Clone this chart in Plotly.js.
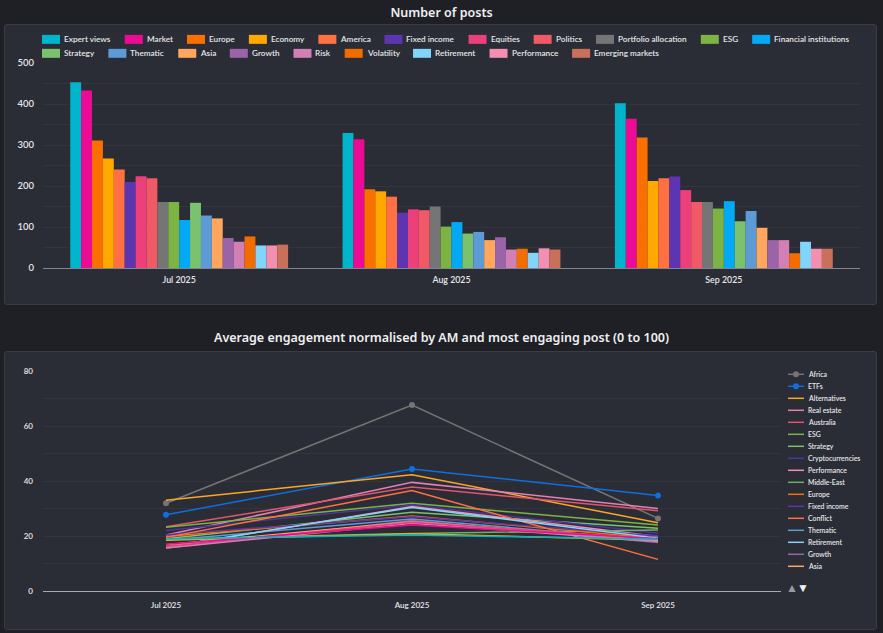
<!DOCTYPE html>
<html><head><meta charset="utf-8">
<script src="https://cdn.plot.ly/plotly-3.0.1.min.js"></script>
<style>
html,body{margin:0;padding:0;background:#1f2025;width:883px;height:633px;overflow:hidden}
.panel{position:absolute;left:4px;width:873px;background:#2b2d36;border:1px solid #3b3d45;border-radius:3px;box-sizing:border-box}
.chart{position:absolute;left:0;width:883px}
</style></head><body>
<div class="panel" style="top:24px;height:281px"></div>
<div class="panel" style="top:351px;height:279px"></div>
<div class="chart" id="c1" style="top:0;height:310px"></div>
<div class="chart" id="c2" style="top:320px;height:313px"></div>
<script>
const months = ['Jul 2025','Aug 2025','Sep 2025'];

const barNames = ['Expert views','Market','Europe','Economy','America','Fixed income','Equities','Politics','Portfolio allocation','ESG','Financial institutions','Strategy','Thematic','Asia','Growth','Risk','Volatility','Retirement','Performance','Emerging markets'];
const barColors = ['#00b4cc','#ec0b94','#f97000','#ffa800','#ff7043','#5e35b1','#ec407a','#ef5a66','#757575','#7cb342','#03a9f4','#7bc26f','#5c9bd5','#ffa75e','#9c64a8','#d17fb5','#f26c00','#81d4fa','#f48fb1','#c8705a'];
const postsJul = [453,433,311,267,240,210,224,219,161,161,117,159,128,121,73,64,77,55,55,57];
const postsAug = [329,314,192,187,174,135,143,141,150,101,112,84,88,68,75,45,47,37,48,45];
const postsSep = [402,364,318,212,219,223,190,161,161,145,163,114,139,98,68,68,36,64,47,47];

const lineNames = ['Africa','ETFs','Alternatives','Real estate','Australia','ESG','Strategy','Cryptocurrencies','Performance','Middle-East','Europe','Fixed income','Conflict','Thematic','Retirement','Growth','Asia','Economy','Risk','Equities','Market','Expert views'];
const lineColors = ['#757575','#0d6fe0','#f9a825','#e57fb5','#e0566a','#7cb342','#7bc26f','#4a35a0','#f48fb1','#6fb05e','#f97000','#5e35b1','#ff7043','#5c9bd5','#81d4fa','#9c64a8','#ffa75e','#ffa800','#d17fb5','#ec407a','#ec0b94','#00b4cc'];
const engagementJul = [31.9,27.7,33,20.4,23.4,23.2,19,22,15.8,18.9,19.8,20.5,19.5,18.5,16,15.6,16.8,18.5,15.6,16.2,17,18.9];
const engagementAug = [67.6,44.4,42.3,39.5,37.8,31.9,28.6,31.3,30.7,20.9,27.3,27,36.5,26.2,30.4,25.6,25.2,20.8,24.6,25,24,20.4];
const engagementSep = [26.4,34.7,24.8,30,29.2,24,22.8,21,19.8,22.2,19,20,11.5,18.3,19.2,17.6,18.5,18.5,18,18.9,19,18.8];
const markerSeries = ['Africa','ETFs'];
const legendLineCount = 17;

const FONT = '"Noto Sans", sans-serif';
const LEGFONT = 'Lato, "Noto Sans", sans-serif';
const TXT = '#e6e7ea';
const ctx = document.createElement('canvas').getContext('2d');
function textW(s, size){ ctx.font = '600 ' + size + 'px Lato'; return ctx.measureText(s).width; }

function pixelMap(m, W, H){
  return {x: p => (p - m.l) / (W - m.l - m.r), y: p => (H - m.b - p) / (H - m.t - m.b)};
}
function label(map, text, px, py, size, color, anchor){
  return {xref:'paper', yref:'paper', x:map.x(px), y:map.y(py), text:text, showarrow:false,
    xanchor:anchor||'left', yanchor:'middle', borderpad:0, font:{family:LEGFONT, size:size, weight:600, color:color||TXT}};
}

/* chart 1 */
const W1 = 883, H1 = 310, m1 = {l:43, r:23, t:62.7, b:41.7, pad:0};
const map1 = pixelMap(m1, W1, H1);
const shapes1 = [], annos1 = [];
(function(){
  const size = 8.2, swW = 18, swH = 9, left = 42, right = 860, rowY = [39, 53];
  let x = left, row = 0;
  barNames.forEach((n, i) => {
    const w = textW(n, size);
    if (x + swW + 3 + w > right) { x = left; row++; }
    const y = rowY[row];
    shapes1.push({type:'rect', xref:'paper', yref:'paper', x0:map1.x(x), x1:map1.x(x+swW), y0:map1.y(y-swH/2), y1:map1.y(y+swH/2), fillcolor:barColors[i], line:{width:0}});
    annos1.push(label(map1, n, x+swW+3, y, size));
    x += swW + 3 + w + 15.2;
  });
})();
const traces1 = barNames.map((n, i) => ({type:'bar', name:n, x:months, y:[postsJul[i],postsAug[i],postsSep[i]], marker:{color:barColors[i], line:{width:0}}}));
Plotly.newPlot('c1', traces1, {
  width:W1, height:H1, margin:m1, showlegend:false, barmode:'group', bargap:0.2, bargroupgap:0,
  paper_bgcolor:'rgba(0,0,0,0)', plot_bgcolor:'rgba(0,0,0,0)',
  font:{family:FONT, color:TXT},
  title:{text:'Number of posts', font:{family:FONT, size:12.5, weight:600, color:'#f0f0f2'}, x:0.5, xref:'container', xanchor:'center', y:1-13/H1, yref:'container', yanchor:'middle'},
  xaxis:{type:'category', range:[-0.5,2.5], showgrid:false, showline:true, linecolor:'#83858d', linewidth:1, ticks:'', tickfont:{family:LEGFONT, size:8.8, weight:600, color:TXT}, ticklabelstandoff:3, zeroline:false},
  yaxis:{range:[0,500], dtick:100, tick0:0, showgrid:true, gridcolor:'#33353e', gridwidth:1, zeroline:false, ticks:'', tickfont:{family:LEGFONT, size:9.5, weight:600, color:TXT}, ticklabelstandoff:8, minor:{dtick:50, showgrid:true, gridcolor:'#33353e', gridwidth:1}},
  shapes:shapes1, annotations:annos1
}, {displayModeBar:false, staticPlot:true});

/* chart 2 */
const W2 = 883, H2 = 313, m2 = {l:43, r:102, t:51, b:42, pad:0};
const map2 = pixelMap(m2, W2, H2);
const shapes2 = [], annos2 = [];
(function(){
  const size = 6.9, x0 = 788, swW = 16, top = 54.3, step = 12;
  lineNames.slice(0, legendLineCount).forEach((n, i) => {
    const y = top + i*step;
    shapes2.push({type:'line', xref:'paper', yref:'paper', x0:map2.x(x0), x1:map2.x(x0+swW), y0:map2.y(y), y1:map2.y(y), line:{color:lineColors[i], width:1.5}});
    if (markerSeries.includes(n)) {
      const r = 3;
      shapes2.push({type:'circle', xref:'paper', yref:'paper', x0:map2.x(x0+swW/2-r), x1:map2.x(x0+swW/2+r), y0:map2.y(y-r), y1:map2.y(y+r), fillcolor:lineColors[i], line:{width:0}});
    }
    annos2.push(label(map2, n, x0+swW+3, y, size));
  });
  annos2.push(label(map2, '\u25B2', 792, 267, 12, '#9a9ba0', 'center'));
  annos2.push(label(map2, '\u25BC', 803, 267, 12, '#f2f2f2', 'center'));
})();
const traces2 = lineNames.map((n, i) => ({
  type:'scatter', name:n, x:months, y:[engagementJul[i],engagementAug[i],engagementSep[i]],
  mode: markerSeries.includes(n) ? 'lines+markers' : 'lines',
  line:{color:lineColors[i], width:1.5}, marker:{color:lineColors[i], size:6}
}));
Plotly.newPlot('c2', traces2, {
  width:W2, height:H2, margin:m2, showlegend:false,
  paper_bgcolor:'rgba(0,0,0,0)', plot_bgcolor:'rgba(0,0,0,0)',
  font:{family:FONT, color:TXT},
  title:{text:'Average engagement normalised by AM and most engaging post (0 to 100)', font:{family:FONT, size:12.5, weight:600, color:'#f0f0f2'}, x:0.5, xref:'container', xanchor:'center', y:1-18/H2, yref:'container', yanchor:'middle'},
  xaxis:{type:'category', range:[-0.5,2.5], showgrid:false, showline:true, linecolor:'#a8aab0', linewidth:1, ticks:'', tickfont:{family:LEGFONT, size:8, weight:600, color:TXT}, ticklabelstandoff:6, zeroline:false},
  yaxis:{range:[0,80], dtick:20, tick0:0, showgrid:true, gridcolor:'#33353e', gridwidth:1, zeroline:false, ticks:'', tickfont:{family:LEGFONT, size:8, weight:600, color:TXT}, ticklabelstandoff:9, minor:{dtick:10, showgrid:true, gridcolor:'#33353e', gridwidth:1}},
  shapes:shapes2, annotations:annos2
}, {displayModeBar:false, staticPlot:true});
</script>
</body></html>
